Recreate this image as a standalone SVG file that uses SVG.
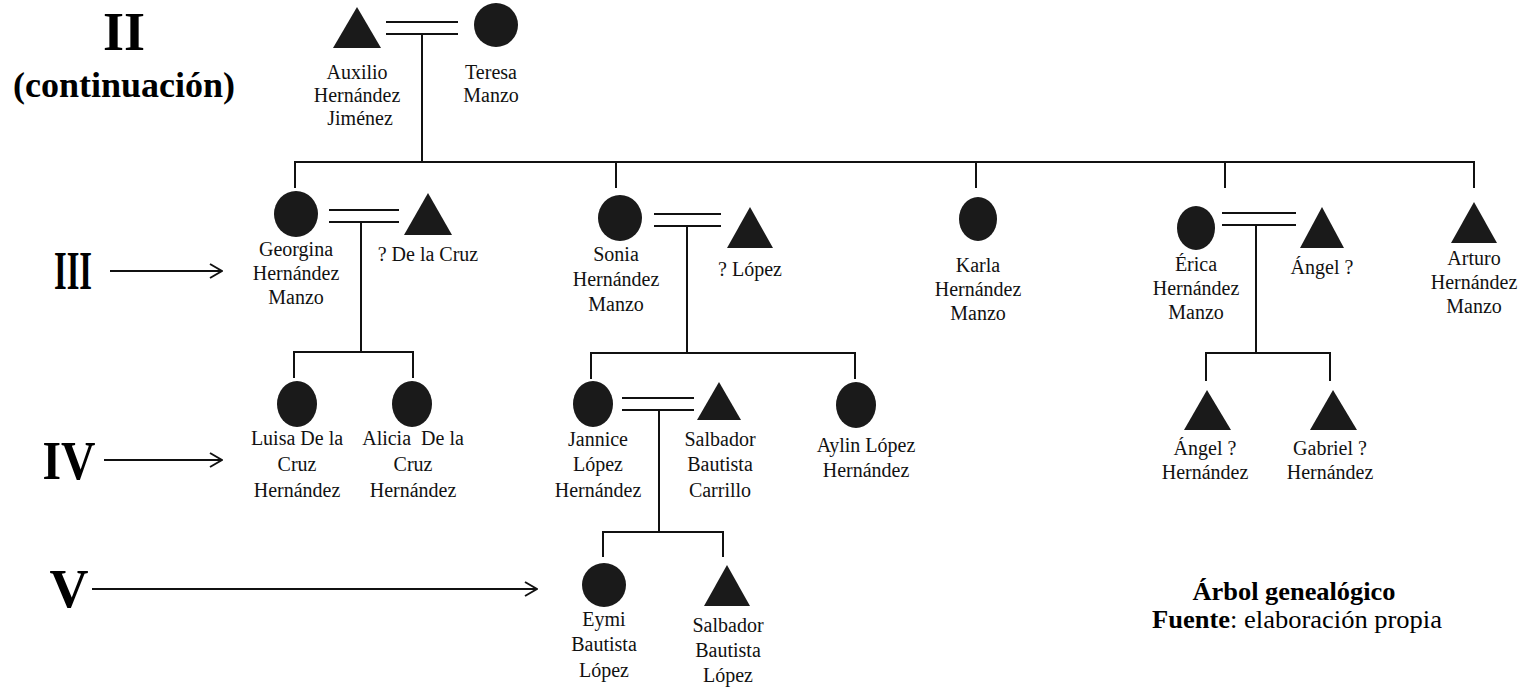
<svg xmlns="http://www.w3.org/2000/svg" width="1532" height="690" viewBox="0 0 1532 690">
<style>
.t{font-family:"Liberation Serif","Times New Roman",serif;font-size:20px;fill:#111;text-anchor:middle}
.b{font-family:"Liberation Serif","Times New Roman",serif;font-weight:bold;fill:#000;text-anchor:middle}
.f{font-family:"Liberation Serif","Times New Roman",serif;font-size:25px;fill:#000;text-anchor:middle}
.l{stroke:#111;stroke-width:2;fill:none}
.s{fill:#1a1a1a}
</style>
<defs>
<marker id="ah" viewBox="0 0 14 16" refX="13" refY="8" markerWidth="14" markerHeight="16" markerUnits="userSpaceOnUse" orient="auto">
<path d="M1,1 L13,8 L1,15" fill="none" stroke="#111" stroke-width="2"/>
</marker>
</defs>
<rect width="1532" height="690" fill="#fff"/>

<g id="labels">
<text class="b" x="124" y="50" font-size="54">II</text>
<text class="b" x="124" y="97" font-size="36">(continuación)</text>
<text class="b" x="73" y="289" font-size="54" textLength="38" lengthAdjust="spacingAndGlyphs">III</text>
<text class="b" x="69" y="479" font-size="54" textLength="53" lengthAdjust="spacingAndGlyphs">IV</text>
<text class="b" x="69" y="607" font-size="54">V</text>
<text class="f" x="1294" y="600" font-weight="bold" textLength="203" lengthAdjust="spacingAndGlyphs">Árbol genealógico</text>
<text class="f" x="1297" y="628" textLength="290" lengthAdjust="spacingAndGlyphs"><tspan font-weight="bold">Fuente</tspan>: elaboración propia</text>
</g>

<g id="connectors" class="l">
<line x1="110" y1="271" x2="222" y2="271" marker-end="url(#ah)"/>
<line x1="104" y1="460" x2="222" y2="460" marker-end="url(#ah)"/>
<line x1="92" y1="589" x2="537" y2="589" marker-end="url(#ah)"/>
<!-- gen II couple -->
<line x1="386" y1="22" x2="458" y2="22"/>
<line x1="386" y1="34" x2="458" y2="34"/>
<line x1="422" y1="34" x2="422" y2="162"/>
<line x1="294" y1="162" x2="1475" y2="162"/>
<line x1="295" y1="162" x2="295" y2="188"/>
<line x1="616" y1="162" x2="616" y2="188"/>
<line x1="976" y1="162" x2="976" y2="188"/>
<line x1="1225" y1="162" x2="1225" y2="188"/>
<line x1="1474" y1="162" x2="1474" y2="188"/>
<!-- Georgina couple -->
<line x1="329" y1="210" x2="399" y2="210"/>
<line x1="329" y1="222" x2="399" y2="222"/>
<line x1="361" y1="222" x2="361" y2="352"/>
<line x1="293" y1="352" x2="414" y2="352"/>
<line x1="294" y1="352" x2="294" y2="378"/>
<line x1="413" y1="352" x2="413" y2="378"/>
<!-- Sonia couple -->
<line x1="654" y1="214" x2="721" y2="214"/>
<line x1="654" y1="226" x2="721" y2="226"/>
<line x1="687" y1="226" x2="687" y2="353"/>
<line x1="590" y1="353" x2="856" y2="353"/>
<line x1="591" y1="353" x2="591" y2="379"/>
<line x1="855" y1="353" x2="855" y2="379"/>
<!-- Erica couple -->
<line x1="1222" y1="213" x2="1296" y2="213"/>
<line x1="1222" y1="225" x2="1296" y2="225"/>
<line x1="1256" y1="225" x2="1256" y2="353"/>
<line x1="1205" y1="353" x2="1331" y2="353"/>
<line x1="1206" y1="353" x2="1206" y2="381"/>
<line x1="1330" y1="353" x2="1330" y2="381"/>
<!-- Jannice couple -->
<line x1="622" y1="398" x2="694" y2="398"/>
<line x1="622" y1="410" x2="694" y2="410"/>
<line x1="659" y1="410" x2="659" y2="532"/>
<line x1="602" y1="532" x2="724" y2="532"/>
<line x1="603" y1="532" x2="603" y2="557"/>
<line x1="723" y1="532" x2="723" y2="557"/>
</g>

<g id="auxilio"><polygon class="s" points="357,7 333,48 381,48"/>
<text class="t" x="357" y="79">Auxilio</text><text class="t" x="357" y="102">Hernández</text><text class="t" x="360" y="125">Jiménez</text></g>
<g id="teresa"><circle class="s" cx="496" cy="25" r="22"/>
<text class="t" x="491" y="79">Teresa</text><text class="t" x="491" y="102">Manzo</text></g>

<g id="georgina"><ellipse class="s" cx="296" cy="214" rx="22" ry="23"/>
<text class="t" x="296" y="256">Georgina</text><text class="t" x="296" y="280">Hernández</text><text class="t" x="296" y="304">Manzo</text></g>
<g id="delacruz"><polygon class="s" points="428,193 404,235 452,235"/>
<text class="t" x="428" y="261">? De la Cruz</text></g>

<g id="sonia"><ellipse class="s" cx="620" cy="218" rx="22" ry="23"/>
<text class="t" x="616" y="261">Sonia</text><text class="t" x="616" y="286">Hernández</text><text class="t" x="616" y="311">Manzo</text></g>
<g id="lopez"><polygon class="s" points="750,207 727,248 773,248"/>
<text class="t" x="750" y="276">? López</text></g>

<g id="karla"><ellipse class="s" cx="978" cy="219" rx="19" ry="22"/>
<text class="t" x="978" y="272">Karla</text><text class="t" x="978" y="296">Hernández</text><text class="t" x="978" y="320">Manzo</text></g>

<g id="erica"><ellipse class="s" cx="1196" cy="228" rx="19" ry="22"/>
<text class="t" x="1196" y="271">Érica</text><text class="t" x="1196" y="295">Hernández</text><text class="t" x="1196" y="319">Manzo</text></g>
<g id="angel"><polygon class="s" points="1322,207 1300,248 1344,248"/>
<text class="t" x="1322" y="274">Ángel ?</text></g>

<g id="arturo"><polygon class="s" points="1474,202 1451,243 1497,243"/>
<text class="t" x="1474" y="265">Arturo</text><text class="t" x="1474" y="289">Hernández</text><text class="t" x="1474" y="313">Manzo</text></g>

<g id="luisa"><ellipse class="s" cx="297" cy="404" rx="20" ry="23"/>
<text class="t" x="297" y="445">Luisa De la</text><text class="t" x="297" y="471">Cruz</text><text class="t" x="297" y="497">Hernández</text></g>
<g id="alicia"><ellipse class="s" cx="412" cy="404" rx="20" ry="23"/>
<text class="t" x="413" y="445" xml:space="preserve">Alicia  De la</text><text class="t" x="413" y="471">Cruz</text><text class="t" x="413" y="497">Hernández</text></g>

<g id="jannice"><ellipse class="s" cx="593" cy="404" rx="20" ry="23"/>
<text class="t" x="598" y="446">Jannice</text><text class="t" x="598" y="471">López</text><text class="t" x="598" y="497">Hernández</text></g>
<g id="salbador"><polygon class="s" points="719,382 697,420 741,420"/>
<text class="t" x="720" y="446">Salbador</text><text class="t" x="720" y="471">Bautista</text><text class="t" x="720" y="497">Carrillo</text></g>
<g id="aylin"><ellipse class="s" cx="856" cy="405" rx="20" ry="23"/>
<text class="t" x="866" y="452">Aylin López</text><text class="t" x="866" y="477">Hernández</text></g>

<g id="angel2"><polygon class="s" points="1207,390 1184,430 1231,430"/>
<text class="t" x="1205" y="455">Ángel ?</text><text class="t" x="1205" y="479">Hernández</text></g>
<g id="gabriel"><polygon class="s" points="1333,390 1310,430 1357,430"/>
<text class="t" x="1330" y="455">Gabriel ?</text><text class="t" x="1330" y="479">Hernández</text></g>

<g id="eymi"><circle class="s" cx="604" cy="585" r="22"/>
<text class="t" x="604" y="626">Eymi</text><text class="t" x="604" y="651">Bautista</text><text class="t" x="604" y="677">López</text></g>
<g id="salbador2"><polygon class="s" points="727,565 704,606 750,606"/>
<text class="t" x="728" y="632">Salbador</text><text class="t" x="728" y="657">Bautista</text><text class="t" x="728" y="682">López</text></g>
</svg>
